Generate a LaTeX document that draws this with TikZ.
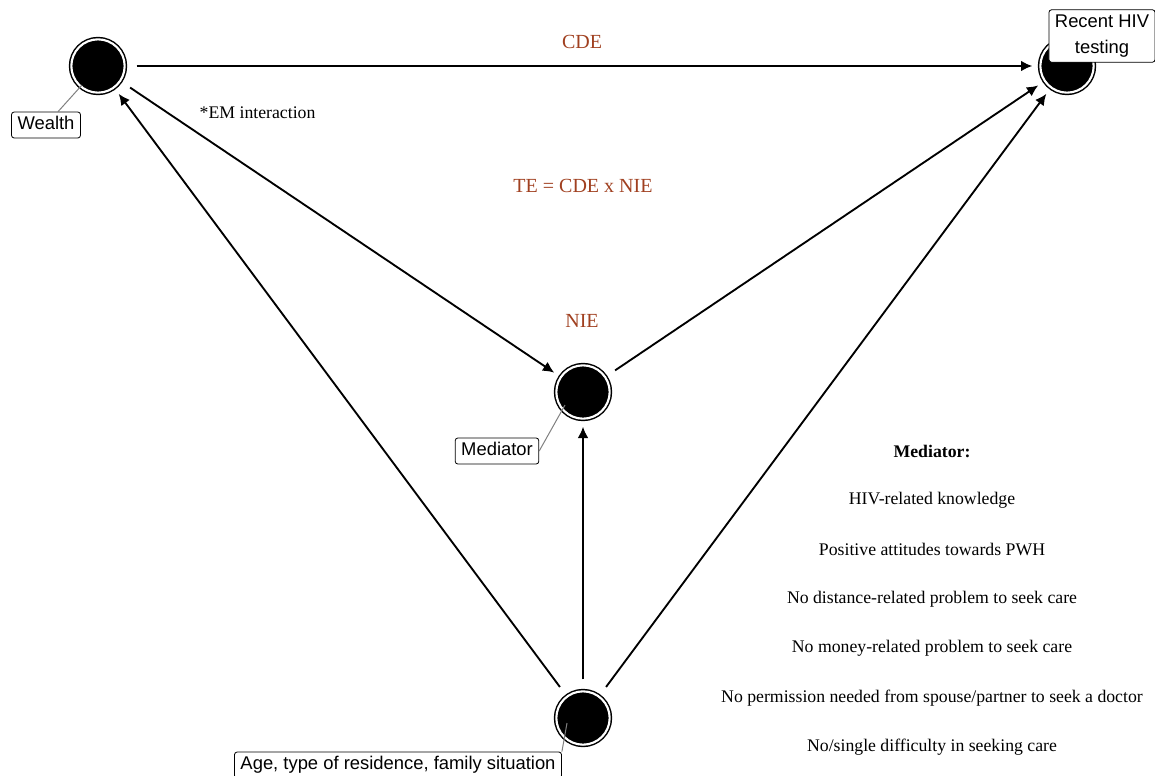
\documentclass[tikz,border=0pt]{standalone}
\usepackage{fontspec}
\setmainfont{Liberation Serif}
\setsansfont{Liberation Sans}
\usetikzlibrary{arrows.meta,
                positioning}
\definecolor{effect}{RGB}{160,64,32}
\tikzset{latent/.style =
   {circle,
    fill=black,
    draw=black,
    line width=1.1pt,
    double=white,
    double distance=1.6pt,
    inner sep=0pt,
    outer sep=0pt,
    minimum size=40pt}}
\tikzset{tag/.style =
   {rectangle,
    draw,
    fill=white,
    rounded corners=2pt,
    line width=0.6pt,
    align=center,
    inner xsep=4.5pt,
    inner ysep=3pt,
    font=\sffamily\fontsize{13.8}{19}\selectfont}}
\tikzset{tag-line/.style =
   {tag,
    text height=10pt,
    text depth=3.5pt}}
\tikzset{pinline/.style = {draw, gray, line width=0.75pt}}
\tikzset{arrow/.style =
   {draw,
    line width=1.4pt,
    -{Latex[length=8.5pt,width=8pt]},
    shorten <=9pt,
    shorten >=6pt}}
\tikzset{effect-text/.style = {text=effect, font=\fontsize{15}{18}\selectfont}}
\tikzset{note/.style = {font=\fontsize{13.3}{15}\selectfont}}

\begin{document}
\begin{tikzpicture}[x=0.75pt, y=-0.75pt]

    \useasboundingbox (0,0) rectangle (1155,775);

    \node [latent] (wealth)   at (98,66)   {};
    \node [latent] (testing)  at (1067,66) {};
    \node [latent] (mediator) at (583,392) {};
    \node [latent] (covars)   at (583,718) {};

    \draw [arrow] (wealth)   -- (testing);
    \draw [arrow] (wealth)   -- (mediator);
    \draw [arrow] (mediator) -- (testing);
    \draw [arrow] (covars)   -- (wealth);
    \draw [arrow] (covars)   -- (mediator);
    \draw [arrow] (covars)   -- (testing);

    \node [effect-text] (cde) at (582,42)  {CDE};
    \node [effect-text] (te)  at (583,186) {TE = CDE x NIE};
    \node [effect-text] (nie) at (582,321) {NIE};
    \node [note, anchor=west] (em) at (195,113) {*EM interaction};

    \coordinate (wealthpin)   at (82,85);
    \coordinate (mediatorpin) at (565,405);
    \coordinate (covarspin)   at (567,723);

    \node [tag-line] (wealthtag)   at (46,125)  {Wealth};
    \node [tag-line] (mediatortag) at (497,451) {Mediator};
    \node [tag-line] (covarstag)   at (398,765) {Age, type of residence, family situation};
    \node [tag, inner ysep=4pt] (testingtag) at (1102,36) {Recent HIV\\testing};

    \draw [pinline] (wealthtag)            -- (wealthpin);
    \draw [pinline] (mediatortag.east)     -- (mediatorpin);
    \draw [pinline] (covarstag.north east) -- (covarspin);

    \node [note, font=\bfseries\fontsize{13.3}{15}\selectfont] (medhead) at (932,451) {Mediator:};
    \node [note] (med1) at (932,500) {HIV-related knowledge};
    \node [note] (med2) at (932,549) {Positive attitudes towards PWH};
    \node [note] (med3) at (932,599) {No distance-related problem to seek care};
    \node [note] (med4) at (932,648) {No money-related problem to seek care};
    \node [note] (med5) at (932,698) {No permission needed from spouse/partner to seek a doctor};
    \node [note] (med6) at (932,747) {No/single difficulty in seeking care};

\end{tikzpicture}
\end{document}
